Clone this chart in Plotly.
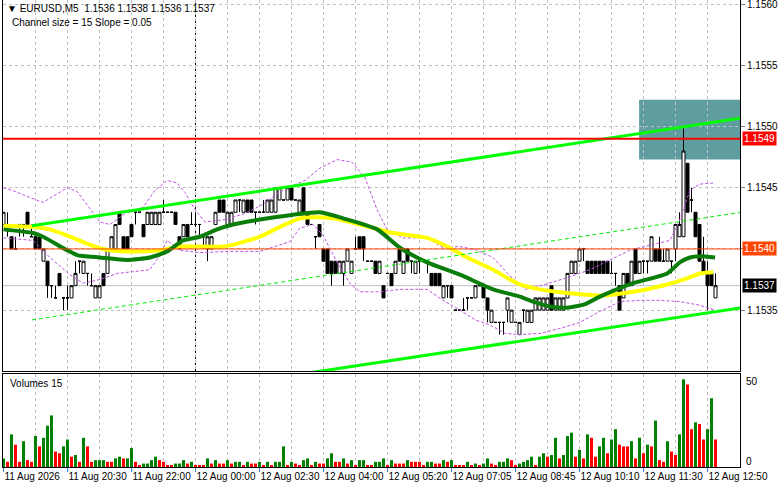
import plotly.graph_objects as go

# ---------------- data (EURUSD M5) ----------------
OPEN = [
    1.1542, 1.1542, 1.1541, 1.1540, 1.1542, 1.1542, 1.1543, 1.1541, 1.1541, 1.1541,
    1.1539, 1.1539, 1.1537, 1.1536, 1.1538, 1.1536, 1.1536, 1.1536, 1.1537, 1.1539,
    1.1538, 1.1538, 1.1537, 1.1536, 1.1536, 1.1538, 1.1538, 1.1540, 1.1540, 1.1543,
    1.1541, 1.1541, 1.1542, 1.1543, 1.1543, 1.1542, 1.1542, 1.1542, 1.1542, 1.1542,
    1.1543, 1.1543, 1.1543, 1.1543, 1.1541, 1.1541, 1.1542, 1.1542, 1.1542, 1.1542,
    1.1541, 1.1540, 1.1540, 1.1542, 1.1544, 1.1544, 1.1542, 1.1542, 1.1543, 1.1544,
    1.1543, 1.1544, 1.1544, 1.1543, 1.1543, 1.1543, 1.1543, 1.1543, 1.1543, 1.1544,
    1.1544, 1.1544, 1.1545, 1.1544, 1.1543, 1.1545, 1.1543, 1.1542, 1.1541, 1.1542,
    1.1540, 1.1540, 1.1539, 1.1539, 1.1538, 1.1538, 1.1539, 1.1538, 1.1540, 1.1541,
    1.1541, 1.1539, 1.1539, 1.1539, 1.1538, 1.1537, 1.1538, 1.1538, 1.1538, 1.1540,
    1.1538, 1.1540, 1.1539, 1.1538, 1.1539, 1.1539, 1.1539, 1.1538, 1.1538, 1.1538,
    1.1536, 1.1537, 1.1537, 1.1535, 1.1535, 1.1535, 1.1536, 1.1536, 1.1536, 1.1537,
    1.1537, 1.1536, 1.1534, 1.1534, 1.1534, 1.1534, 1.1535, 1.1534, 1.1534, 1.1533,
    1.1535, 1.1534, 1.1534, 1.1535, 1.1535, 1.1535, 1.1535, 1.1537, 1.1535, 1.1535,
    1.1535, 1.1536, 1.1538, 1.1538, 1.1539, 1.1540, 1.1539, 1.1539, 1.1539, 1.1539,
    1.1539, 1.1539, 1.1538, 1.1538, 1.1537, 1.1536, 1.1538, 1.1537, 1.1540, 1.1538,
    1.1539, 1.1539, 1.1539, 1.1540, 1.1540, 1.1539, 1.1539, 1.1539, 1.1540, 1.1541,
    1.1541, 1.1547, 1.1544, 1.1543, 1.1542, 1.1539, 1.1538, 1.1538, 1.1536,
]
HIGH = [
    1.1543, 1.1543, 1.1541, 1.1541, 1.1542, 1.1542, 1.1543, 1.1542, 1.1541, 1.1541,
    1.1540, 1.1539, 1.1537, 1.1537, 1.1538, 1.1536, 1.1537, 1.1537, 1.1539, 1.1539,
    1.1539, 1.1538, 1.1538, 1.1537, 1.1537, 1.1538, 1.1540, 1.1541, 1.1542, 1.1543,
    1.1541, 1.1541, 1.1542, 1.1543, 1.1543, 1.1542, 1.1543, 1.1543, 1.1543, 1.1543,
    1.1544, 1.1543, 1.1543, 1.1543, 1.1541, 1.1542, 1.1542, 1.1543, 1.1543, 1.1542,
    1.1541, 1.1541, 1.1541, 1.1543, 1.1544, 1.1544, 1.1543, 1.1543, 1.1544, 1.1544,
    1.1544, 1.1544, 1.1544, 1.1543, 1.1543, 1.1544, 1.1544, 1.1544, 1.1545, 1.1545,
    1.1544, 1.1545, 1.1545, 1.1544, 1.1544, 1.1545, 1.1543, 1.1542, 1.1541, 1.1542,
    1.1540, 1.1540, 1.1539, 1.1539, 1.1539, 1.1539, 1.1540, 1.1539, 1.1541, 1.1541,
    1.1541, 1.1539, 1.1539, 1.1539, 1.1539, 1.1537, 1.1538, 1.1538, 1.1539, 1.1540,
    1.1539, 1.1540, 1.1539, 1.1539, 1.1539, 1.1539, 1.1539, 1.1538, 1.1538, 1.1538,
    1.1537, 1.1537, 1.1537, 1.1535, 1.1535, 1.1536, 1.1536, 1.1536, 1.1537, 1.1537,
    1.1537, 1.1536, 1.1535, 1.1534, 1.1534, 1.1534, 1.1536, 1.1535, 1.1534, 1.1534,
    1.1535, 1.1535, 1.1535, 1.1536, 1.1536, 1.1536, 1.1536, 1.1537, 1.1536, 1.1536,
    1.1536, 1.1538, 1.1539, 1.1539, 1.1540, 1.1540, 1.1539, 1.1539, 1.1539, 1.1539,
    1.1539, 1.1539, 1.1539, 1.1538, 1.1537, 1.1538, 1.1538, 1.1539, 1.1540, 1.1539,
    1.1539, 1.1539, 1.1541, 1.1540, 1.1541, 1.1540, 1.1540, 1.1539, 1.1542, 1.1543,
    1.1550, 1.1547, 1.1545, 1.1543, 1.1542, 1.1541, 1.1539, 1.1538, 1.1538,
]
LOW = [
    1.1542, 1.1541, 1.1540, 1.1540, 1.1541, 1.1541, 1.1542, 1.1541, 1.1540, 1.1540,
    1.1539, 1.1536, 1.1536, 1.1536, 1.1537, 1.1535, 1.1535, 1.1536, 1.1537, 1.1538,
    1.1538, 1.1537, 1.1537, 1.1536, 1.1536, 1.1537, 1.1538, 1.1540, 1.1540, 1.1542,
    1.1540, 1.1540, 1.1541, 1.1542, 1.1543, 1.1541, 1.1542, 1.1542, 1.1542, 1.1542,
    1.1543, 1.1543, 1.1543, 1.1542, 1.1540, 1.1541, 1.1541, 1.1542, 1.1542, 1.1541,
    1.1540, 1.1539, 1.1540, 1.1542, 1.1543, 1.1543, 1.1542, 1.1542, 1.1543, 1.1543,
    1.1543, 1.1543, 1.1543, 1.1542, 1.1543, 1.1543, 1.1543, 1.1543, 1.1543, 1.1544,
    1.1544, 1.1544, 1.1544, 1.1544, 1.1543, 1.1543, 1.1542, 1.1542, 1.1540, 1.1541,
    1.1539, 1.1538, 1.1537, 1.1538, 1.1538, 1.1537, 1.1539, 1.1538, 1.1540, 1.1540,
    1.1539, 1.1539, 1.1539, 1.1538, 1.1538, 1.1536, 1.1538, 1.1537, 1.1538, 1.1539,
    1.1538, 1.1539, 1.1538, 1.1538, 1.1538, 1.1539, 1.1538, 1.1537, 1.1537, 1.1537,
    1.1536, 1.1536, 1.1536, 1.1535, 1.1535, 1.1535, 1.1535, 1.1536, 1.1536, 1.1537,
    1.1536, 1.1534, 1.1534, 1.1534, 1.1533, 1.1533, 1.1534, 1.1534, 1.1534, 1.1533,
    1.1534, 1.1534, 1.1534, 1.1535, 1.1535, 1.1535, 1.1535, 1.1535, 1.1535, 1.1535,
    1.1535, 1.1536, 1.1538, 1.1538, 1.1539, 1.1539, 1.1538, 1.1538, 1.1538, 1.1538,
    1.1538, 1.1538, 1.1538, 1.1537, 1.1535, 1.1536, 1.1537, 1.1537, 1.1538, 1.1538,
    1.1538, 1.1538, 1.1539, 1.1539, 1.1539, 1.1539, 1.1539, 1.1538, 1.1539, 1.1541,
    1.1541, 1.1543, 1.1543, 1.1541, 1.1539, 1.1538, 1.1535, 1.1537, 1.1536,
]
CLOSE = [
    1.1543, 1.1542, 1.1540, 1.1540, 1.1542, 1.1542, 1.1542, 1.1541, 1.1540, 1.1540,
    1.1540, 1.1537, 1.1537, 1.1536, 1.1537, 1.1536, 1.1536, 1.1537, 1.1538, 1.1539,
    1.1539, 1.1538, 1.1537, 1.1537, 1.1537, 1.1537, 1.1540, 1.1541, 1.1542, 1.1542,
    1.1540, 1.1540, 1.1541, 1.1543, 1.1543, 1.1541, 1.1543, 1.1543, 1.1543, 1.1543,
    1.1543, 1.1543, 1.1543, 1.1542, 1.1540, 1.1542, 1.1541, 1.1542, 1.1542, 1.1542,
    1.1541, 1.1541, 1.1541, 1.1543, 1.1543, 1.1543, 1.1543, 1.1543, 1.1544, 1.1544,
    1.1544, 1.1543, 1.1543, 1.1543, 1.1543, 1.1543, 1.1544, 1.1544, 1.1545, 1.1545,
    1.1544, 1.1545, 1.1544, 1.1544, 1.1544, 1.1543, 1.1542, 1.1542, 1.1541, 1.1541,
    1.1539, 1.1538, 1.1538, 1.1538, 1.1539, 1.1539, 1.1540, 1.1539, 1.1540, 1.1540,
    1.1540, 1.1539, 1.1539, 1.1538, 1.1539, 1.1536, 1.1538, 1.1537, 1.1539, 1.1539,
    1.1539, 1.1539, 1.1539, 1.1539, 1.1539, 1.1539, 1.1539, 1.1537, 1.1537, 1.1537,
    1.1537, 1.1537, 1.1536, 1.1535, 1.1535, 1.1535, 1.1536, 1.1536, 1.1537, 1.1537,
    1.1536, 1.1535, 1.1535, 1.1534, 1.1534, 1.1534, 1.1536, 1.1535, 1.1534, 1.1534,
    1.1535, 1.1535, 1.1535, 1.1536, 1.1536, 1.1536, 1.1536, 1.1535, 1.1536, 1.1536,
    1.1536, 1.1538, 1.1539, 1.1539, 1.1540, 1.1540, 1.1538, 1.1538, 1.1538, 1.1538,
    1.1538, 1.1538, 1.1538, 1.1538, 1.1535, 1.1538, 1.1537, 1.1539, 1.1538, 1.1539,
    1.1539, 1.1539, 1.1541, 1.1539, 1.1539, 1.1539, 1.1540, 1.1539, 1.1542, 1.1542,
    1.1548, 1.1543, 1.1544, 1.1541, 1.1539, 1.1538, 1.1537, 1.1537, 1.1537,
]
VOLUME = [
    5, 3, 19, 13, 3, 15, 4, 3, 18, 12,
    17, 24, 30, 9, 8, 12, 16, 6, 7, 3,
    17, 12, 3, 4, 4, 4, 3, 3, 5, 6,
    5, 5, 11, 3, 1, 2, 2, 4, 6, 4,
    3, 1, 1, 2, 2, 4, 2, 3, 1, 1,
    1, 5, 2, 4, 2, 2, 4, 2, 3, 3,
    1, 3, 2, 2, 3, 1, 3, 1, 3, 3,
    12, 1, 3, 2, 1, 4, 5, 1, 3, 2,
    2, 5, 8, 3, 3, 5, 2, 4, 1, 4,
    4, 1, 1, 3, 3, 5, 1, 4, 2, 2,
    2, 4, 3, 3, 3, 1, 3, 3, 2, 2,
    4, 3, 4, 1, 1, 1, 3, 1, 2, 1,
    2, 5, 2, 1, 3, 3, 5, 4, 1, 2,
    3, 4, 6, 1, 6, 8, 6, 7, 17, 5,
    7, 18, 20, 6, 10, 5, 19, 17, 6, 12,
    17, 8, 16, 22, 13, 12, 12, 15, 5, 17,
    8, 13, 12, 27, 4, 3, 15, 9, 7, 19,
    51, 48, 22, 26, 25, 16, 22, 40, 16,
]
# g = volume up (green), r = volume down (red)
VOLUME_DIR = (
    "grgrrgrrgr" "gggrrggrgr" "grrgggrrgg" "rggrrggggr" "rrrgggrgrr"
    "rgrgrrgrgg" "rgrrgrgrgg" "grgrrggrgr" "rggrrgrgrg" "grrgggrgrr"
    "rgrrrrggrr" "grgrrrgrgr" "ggrrgggrrg" "gggrggrggr" "gggrgrgrrg"
    "grggrrrgrg" "rgrgrrgrrg" "grrgrrggr"
)

# moving averages and envelope bands, read as (bar index, price) points
YELLOW_MA_X = [0, 7.4, 11.6, 15.9, 20.4, 24.9, 31.6, 39.1, 44.1, 49.1, 54.9, 59.1, 64.1, 69.1,
               74.1, 77.9, 82.4, 89.1, 97.4, 105.9, 110.9, 115.9, 122.4, 126.6, 129.1, 134.1,
               140.9, 149.1, 157.4, 165.9, 170.9, 174.1, 177.4]
YELLOW_MA_Y = [1.15419, 1.15418, 1.15416, 1.15411, 1.15405, 1.15400, 1.15398, 1.15399, 1.15402,
               1.15402, 1.15402, 1.15405, 1.15410, 1.15418, 1.15425, 1.15426, 1.15425, 1.15420,
               1.15413, 1.15409, 1.15402, 1.15393, 1.15383, 1.15375, 1.15371, 1.15367, 1.15364,
               1.15362, 1.15365, 1.15371, 1.15376, 1.15380, 1.15381]
GREEN_MA_X = [0, 7.4, 9.9, 15.9, 18.4, 24.1, 30.9, 36.6, 40.9, 44.9, 49.1, 53.4, 57.4, 64.1,
              72.4, 79.1, 84.9, 93.4, 99.1, 105.9, 114.1, 122.4, 129.1, 132.4, 136.6, 140.9,
              145.4, 149.1, 157.4, 165.9, 169.1, 171.6, 174.1, 177.9]
GREEN_MA_Y = [1.15416, 1.15413, 1.15410, 1.15399, 1.15395, 1.15393, 1.15391, 1.15393, 1.15398,
              1.15407, 1.15410, 1.15416, 1.15420, 1.15424, 1.15428, 1.15430, 1.15425, 1.15416,
              1.15401, 1.15389, 1.15379, 1.15367, 1.15361, 1.15357, 1.15353, 1.15352, 1.15355,
              1.15361, 1.15372, 1.15380, 1.15389, 1.15393, 1.15394, 1.15393]
UPPER_BAND_X = [0, 2.9, 6.6, 9.9, 12.9, 15.9, 18.4, 20.9, 24.1, 26.6, 30.4, 34.9, 37.9, 40.9,
                43.4, 45.4, 47.9, 50.4, 55.4, 60.4, 64.6, 67.9, 71.6, 75.4, 79.1, 83.4, 87.1,
                90.4, 93.4, 95.9, 99.9, 105.9, 109.9, 114.1, 118.4, 122.4, 126.6, 130.4, 135.4,
                140.4, 146.6, 151.6, 156.6, 161.6, 166.6, 169.1, 171.6, 174.1, 177.9]
UPPER_BAND_Y = [1.15450, 1.15447, 1.15442, 1.15438, 1.15444, 1.15450, 1.15447, 1.15436, 1.15422,
                1.15420, 1.15429, 1.15434, 1.15448, 1.15456, 1.15454, 1.15446, 1.15432, 1.15422,
                1.15424, 1.15429, 1.15436, 1.15444, 1.15451, 1.15456, 1.15466, 1.15473, 1.15471,
                1.15458, 1.15432, 1.15416, 1.15409, 1.15409, 1.15401, 1.15402, 1.15399, 1.15393,
                1.15378, 1.15367, 1.15371, 1.15376, 1.15383, 1.15391, 1.15399, 1.15403, 1.15407,
                1.15424, 1.15448, 1.15453, 1.15454]
LOWER_BAND_X = [0, 7.4, 11.6, 16.6, 19.9, 24.1, 28.4, 36.6, 39.1, 40.9, 44.1, 49.1, 56.6, 64.1,
                71.6, 74.1, 77.4, 79.9, 83.4, 86.6, 89.1, 94.1, 99.1, 105.9, 109.9, 114.1, 117.9,
                121.6, 125.4, 129.1, 134.1, 139.1, 144.1, 149.1, 154.1, 159.1, 164.1, 169.1,
                174.1, 177.9]
LOWER_BAND_Y = [1.15409, 1.15407, 1.15393, 1.15379, 1.15372, 1.15375, 1.15380, 1.15383, 1.15395,
                1.15407, 1.15399, 1.15397, 1.15398, 1.15398, 1.15406, 1.15417, 1.15420, 1.15411,
                1.15389, 1.15372, 1.15365, 1.15365, 1.15367, 1.15367, 1.15358, 1.15350, 1.15342,
                1.15338, 1.15331, 1.15330, 1.15331, 1.15335, 1.15340, 1.15349, 1.15357, 1.15358,
                1.15358, 1.15357, 1.15354, 1.15350]

# regression channel (upper, middle, lower) : start/end bar and prices
CHANNEL_UPPER_X = [7.1, 184.5]
CHANNEL_UPPER_Y = [1.15419, 1.15507]
CHANNEL_MID_X = [7.1, 184.5]
CHANNEL_MID_Y = [1.15342, 1.15430]
CHANNEL_LOW_X = [72.9, 184.5]
CHANNEL_LOW_Y = [1.15297, 1.15352]

RESISTANCE = 1.1549
PIVOT = 1.1540
BID = 1.1537
ZONE_START, ZONE_END = 158.9, 185
ZONE_LOW, ZONE_HIGH = 1.15473, 1.15522
DAY_BREAK = 48

PRICE_TICKS = [1.1535, 1.1540, 1.1545, 1.1550, 1.1555, 1.1560]
PRICE_LABELS = ["1.1535", "", "1.1545", "1.1550", "1.1555", "1.1560"]
TIME_TICKS = [0, 16, 32, 48, 64, 80, 96, 112, 128, 144, 160, 176]
TIME_LABELS = ["11 Aug 2026", "11 Aug 20:30", "11 Aug 22:00", "12 Aug 00:00", "12 Aug 02:30",
               "12 Aug 04:00", "12 Aug 05:20", "12 Aug 07:05", "12 Aug 08:45", "12 Aug 10:10",
               "12 Aug 11:30", "12 Aug 12:50"]

# ---------------- figure ----------------
FONT = "Liberation Sans"
GRID = "#c0c0c0"
bars = list(range(len(OPEN)))
vol_colors = ["#008000" if c == "g" else "#ff0000" for c in VOLUME_DIR]

fig = go.Figure()

fig.add_trace(go.Scatter(x=UPPER_BAND_X, y=UPPER_BAND_Y, mode="lines",
                         line=dict(color="#c050e0", width=1, dash="3px,2px"),
                         hoverinfo="skip", showlegend=False))
fig.add_trace(go.Scatter(x=LOWER_BAND_X, y=LOWER_BAND_Y, mode="lines",
                         line=dict(color="#c050e0", width=1, dash="3px,2px"),
                         hoverinfo="skip", showlegend=False))
fig.add_trace(go.Scatter(x=YELLOW_MA_X, y=YELLOW_MA_Y, mode="lines",
                         line=dict(color="#ffff00", width=4, shape="spline", smoothing=0.6),
                         hoverinfo="skip", showlegend=False))
fig.add_trace(go.Scatter(x=GREEN_MA_X, y=GREEN_MA_Y, mode="lines",
                         line=dict(color="#0a7d0a", width=4, shape="spline", smoothing=0.6),
                         hoverinfo="skip", showlegend=False))
fig.add_trace(go.Scatter(x=CHANNEL_MID_X, y=CHANNEL_MID_Y, mode="lines",
                         line=dict(color="#00ee00", width=1, dash="4px,3px"),
                         hoverinfo="skip", showlegend=False))
fig.add_trace(go.Candlestick(
    x=bars, open=OPEN, high=HIGH, low=LOW, close=CLOSE,
    increasing=dict(line=dict(color="black", width=1), fillcolor="white"),
    decreasing=dict(line=dict(color="black", width=1), fillcolor="black"),
    whiskerwidth=0, hoverinfo="skip", showlegend=False, xaxis="x", yaxis="y"))
fig.add_trace(go.Scatter(x=CHANNEL_UPPER_X, y=CHANNEL_UPPER_Y, mode="lines",
                         line=dict(color="#00ff00", width=3),
                         hoverinfo="skip", showlegend=False))
fig.add_trace(go.Scatter(x=CHANNEL_LOW_X, y=CHANNEL_LOW_Y, mode="lines",
                         line=dict(color="#00ff00", width=3),
                         hoverinfo="skip", showlegend=False))

fig.add_trace(go.Bar(x=bars, y=VOLUME, width=0.75, marker=dict(color=vol_colors, line=dict(width=0)),
                     xaxis="x2", yaxis="y2", hoverinfo="skip", showlegend=False))

# zone, levels, separator
fig.add_shape(type="rect", xref="x", yref="y", x0=ZONE_START, x1=ZONE_END, y0=ZONE_LOW, y1=ZONE_HIGH,
              fillcolor="#5f9ea0", line=dict(width=0), layer="below")
fig.add_shape(type="line", xref="x domain", yref="y", x0=0, x1=1, y0=RESISTANCE, y1=RESISTANCE,
              line=dict(color="#ff0000", width=2))
fig.add_shape(type="line", xref="x domain", yref="y", x0=0, x1=1, y0=PIVOT, y1=PIVOT,
              line=dict(color="#ff4500", width=1))
fig.add_shape(type="line", xref="x domain", yref="y", x0=0, x1=1, y0=BID, y1=BID,
              line=dict(color="#c0c0c0", width=1), layer="below")
for yref in ("y domain", "y2 domain"):
    fig.add_shape(type="line", xref="x", yref=yref, x0=DAY_BREAK, x1=DAY_BREAK, y0=0, y1=1,
                  line=dict(color="black", width=1, dash="3px,3px"), layer="below")

tagfont = dict(family=FONT, size=10, color="white")
for val, bg in ((RESISTANCE, "#ff0000"), (PIVOT, "#ff4500"), (BID, "#000000")):
    fig.add_annotation(xref="paper", yref="y", x=1, y=val, xanchor="left", xshift=2,
                       text=f"{val:.4f}", showarrow=False, bgcolor=bg, font=tagfont,
                       borderpad=1)

hdr = dict(family=FONT, size=10, color="black")
fig.add_annotation(xref="paper", yref="paper", x=0, y=1, xanchor="left", yanchor="top",
                   xshift=2, yshift=-1, showarrow=False, font=hdr,
                   text="▼ EURUSD,M5\u00a0\u00a01.1536 1.1538 1.1536 1.1537")
fig.add_annotation(xref="paper", yref="paper", x=0, y=1, xanchor="left", yanchor="top",
                   xshift=7, yshift=-15, showarrow=False, font=hdr,
                   text="Channel size = 15 Slope = 0.05")
fig.add_annotation(xref="paper", yref="y2 domain", x=0, y=1, xanchor="left", yanchor="top",
                   xshift=5, yshift=-2, showarrow=False, font=hdr, text="Volumes 15")
fig.add_annotation(xref="paper", yref="y2", x=1, y=50, xanchor="left", xshift=4,
                   showarrow=False, font=hdr, text="50")
fig.add_annotation(xref="paper", yref="y2", x=1, y=0, xanchor="left", xshift=4, yshift=6,
                   showarrow=False, font=hdr, text="0")

X_RANGE = [-0.125, 184.125]
common_x = dict(range=X_RANGE, showline=True, mirror=True, linecolor="black", linewidth=1,
                zeroline=False, gridcolor=GRID, griddash="3px,3px", gridwidth=1)

fig.update_layout(
    width=781, height=489,
    margin=dict(l=3, r=41, t=0, b=22),
    paper_bgcolor="white", plot_bgcolor="white",
    font=dict(family=FONT, size=10, color="black"),
    showlegend=False,
    boxgap=0, boxgroupgap=0.25,
    xaxis=dict(domain=[0, 1], anchor="y", tickmode="array",
               tickvals=list(range(0, 185, 8)), showticklabels=False, ticks="",
               rangeslider=dict(visible=False), **common_x),
    yaxis=dict(domain=[0.2056, 1], anchor="x", range=[1.153003, 1.156034], side="right",
               tickmode="array", tickvals=PRICE_TICKS, ticktext=PRICE_LABELS,
               ticklabeloverflow="allow",
               ticks="outside", ticklen=4, tickcolor="#808080", showline=True, mirror=True,
               linecolor="black", gridcolor=GRID, griddash="3px,3px", zeroline=False),
    xaxis2=dict(domain=[0, 1], anchor="y2", matches="x", tickmode="array", tickvals=TIME_TICKS,
                ticktext=TIME_LABELS, ticklabelposition="outside right", ticks="outside",
                ticklen=4, tickcolor="#4080c0", tickangle=0, ticklabeloverflow="allow",
                minor=dict(tickvals=list(range(8, 185, 16)), showgrid=True, gridcolor=GRID,
                           griddash="3px,3px", ticks=""),
                **common_x),
    yaxis2=dict(domain=[0, 0.1991], anchor="x2", range=[0, 54.1], side="right",
                showticklabels=False, ticks="", showgrid=False, zeroline=False,
                showline=True, mirror=True, linecolor="black"),
)

fig.write_html("out.html", config={"displayModeBar": False},
               post_script="document.body.style.margin='0px';document.body.style.overflow='hidden';")
